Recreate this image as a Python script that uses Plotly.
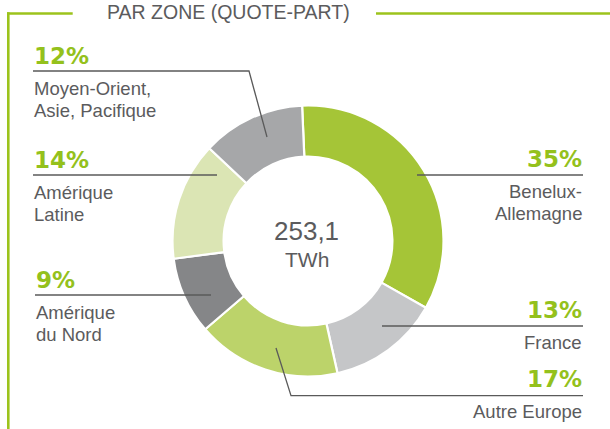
import plotly.graph_objects as go

W, H = 610, 429

# ---- data ----
zones = ["Benelux-Allemagne", "France", "Autre Europe", "Amérique du Nord",
         "Amérique Latine", "Moyen-Orient, Asie, Pacifique"]
shares = [33.9, 13.3, 17.2, 9.2, 14.1, 12.3]          # slice sizes
pct_labels = ["35%", "13%", "17%", "9%", "14%", "12%"]  # printed labels
name_lines = [["Benelux-", "Allemagne"], ["France"], ["Autre Europe"],
              ["Amérique", "du Nord"], ["Amérique", "Latine"],
              ["Moyen-Orient,", "Asie, Pacifique"]]
total_value = "253,1"
total_unit = "TWh"
title = "PAR ZONE (QUOTE-PART)"

# ---- style ----
slice_colors = ["#a5c537", "#c5c6c8", "#bcd36a", "#858688", "#dbe5b4", "#a6a7a9"]
GREEN = "#94c11c"
FRAME = "#9cc31c"
TXT = "#5b5b5d"
LEAD = "#5a5a5a"

# layout positions (pixels): label block anchor x, percent baseline, side
label_pos = [
    (583, 167, "right"),
    (583, 318, "right"),
    (583, 387, "right"),
    (35, 288, "left"),
    (33, 168, "left"),
    (33, 64, "left"),
]
leaders = [
    [(583, 175), (417, 175)],
    [(583, 326), (382, 326)],
    [(583, 395.7), (291, 395.7), (276, 348)],
    [(35, 295), (211, 295)],
    [(33, 175), (217, 175)],
    [(33, 71), (249, 71), (267, 137)],
]

cx, cy, R = 308, 241, 135.5


def px(x):
    return x / W


def py(y):
    return 1 - y / H


fig = go.Figure(go.Pie(
    values=shares, labels=zones, sort=False, direction="clockwise",
    rotation=-2.5, hole=0.623,
    marker=dict(colors=slice_colors, line=dict(color="white", width=2.2)),
    textinfo="none", hoverinfo="label+percent", showlegend=False,
    domain=dict(x=[px(cx - R), px(cx + R)], y=[py(cy + R), py(cy - R)]),
))

annotations = []


def txt(x, base, s, size, color, bold=False, anchor="left", family="Liberation Sans"):
    annotations.append(dict(
        x=px(x), y=py(base - 0.35 * size), xref="paper", yref="paper",
        text=f"<b>{s}</b>" if bold else s, showarrow=False,
        xanchor=anchor, yanchor="middle",
        font=dict(size=size, color=color, family=family), borderpad=0,
    ))


for i in range(len(zones)):
    x, base, side = label_pos[i]
    txt(x, base, pct_labels[i], 23, GREEN, bold=True, anchor=side, family="DejaVu Sans")
    for j, line in enumerate(name_lines[i]):
        txt(x, base + 31 + 22 * j, line, 18.5, TXT, anchor=side)

txt(306, 240, total_value, 26, TXT, anchor="center")
txt(307, 267, total_unit, 21, TXT, anchor="center")
txt(228, 18.5, title, 19.5, TXT, anchor="center")

shapes = []
for pts in leaders:
    path = "M " + " L ".join(f"{px(a):.5f},{py(b):.5f}" for a, b in pts)
    shapes.append(dict(type="path", path=path, xref="paper", yref="paper",
                       line=dict(color=LEAD, width=1.3)))

# frame
for (x0, y0, x1, y1) in [(7, 13.5, 72.7, 13.5), (376, 13.5, 610, 13.5), (8.3, 12.3, 8.3, 429)]:
    shapes.append(dict(type="line", x0=px(x0), y0=py(y0), x1=px(x1), y1=py(y1),
                       xref="paper", yref="paper", line=dict(color=FRAME, width=2.6)))

fig.update_layout(
    width=W, height=H, margin=dict(l=0, r=0, t=0, b=0),
    paper_bgcolor="white", plot_bgcolor="white",
    annotations=annotations, shapes=shapes,
)

fig.write_html("out.html", config={"displayModeBar": False},
               post_script="document.body.style.margin='0px';")
